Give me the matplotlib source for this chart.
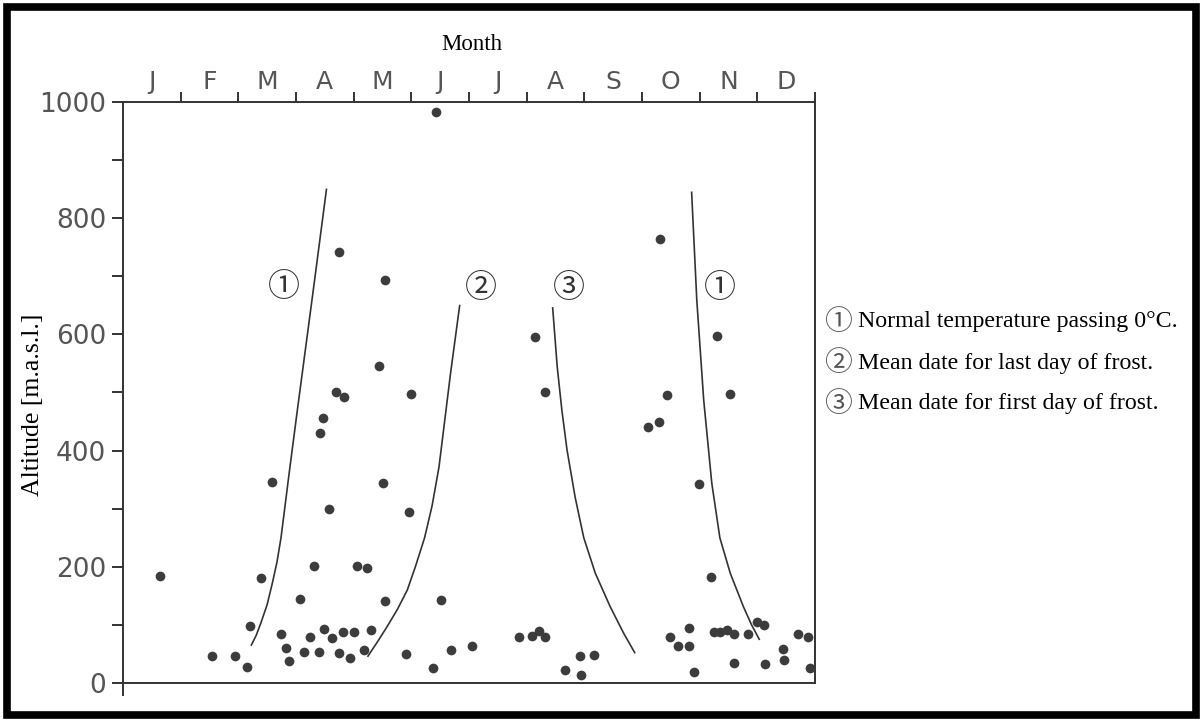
import matplotlib
matplotlib.use('Agg')
import matplotlib.pyplot as plt
from matplotlib.patches import Rectangle

# ---------------- data ----------------
months = ['J', 'F', 'M', 'A', 'M', 'J', 'J', 'A', 'S', 'O', 'N', 'D']

point_month = [0.64, 1.55, 1.94, 2.15, 2.20, 2.39, 2.58, 2.74, 2.83, 2.88,
               3.07, 3.14, 3.24, 3.32, 3.40, 3.41, 3.47, 3.48, 3.57, 3.62,
               3.69, 3.74, 3.75, 3.82, 3.84, 3.94, 4.00, 4.05, 4.18, 4.23,
               4.30, 4.44, 4.51, 4.54, 4.55, 4.90, 4.96, 4.99, 5.38, 5.42,
               5.51, 5.69, 6.05, 6.87, 7.10, 7.14, 7.22, 7.31, 7.32, 7.67,
               7.93, 7.94, 8.16, 9.10, 9.30, 9.32, 9.43, 9.48, 9.63, 9.81,
               9.81, 9.91, 9.98, 10.19, 10.24, 10.30, 10.35, 10.47, 10.52, 10.60,
               10.60, 10.83, 10.99, 11.12, 11.13, 11.44, 11.47, 11.71, 11.88, 11.91]
point_alt = [184, 46, 47, 27, 98, 181, 346, 84, 61, 38,
             144, 53, 79, 202, 53, 430, 456, 93, 299, 77,
             500, 52, 741, 87, 493, 43, 87, 201, 57, 198,
             91, 546, 344, 141, 694, 50, 294, 498, 25, 983,
             142, 57, 63, 79, 81, 595, 89, 500, 79, 23,
             47, 13, 49, 440, 449, 765, 495, 79, 64, 95,
             63, 19, 342, 182, 87, 598, 87, 91, 497, 84,
             34, 84, 105, 99, 33, 58, 39, 85, 79, 26]

# (1) normal temperature passing 0 degC - spring
curve1_month = [2.22, 2.31, 2.39, 2.50, 2.59, 2.67, 2.74, 2.88, 3.02, 3.31, 3.53]
curve1_alt = [64, 82, 103, 135, 172, 208, 250, 360, 467, 684, 851]
# (2) mean date for last day of frost
curve2_month = [4.24, 4.42, 4.58, 4.76, 4.93, 5.07, 5.23, 5.36, 5.48, 5.68, 5.84]
curve2_alt = [45, 72, 97, 127, 160, 200, 250, 305, 372, 533, 651]
# (3) mean date for first day of frost
curve3_month = [7.45, 7.53, 7.61, 7.70, 7.84, 7.99, 8.19, 8.45, 8.68, 8.88]
curve3_alt = [647, 544, 470, 401, 320, 250, 189, 131, 86, 51]
# (1) normal temperature passing 0 degC - autumn
curve4_month = [9.86, 9.95, 10.07, 10.21, 10.35, 10.53, 10.76, 10.90, 11.04]
curve4_alt = [846, 659, 487, 344, 250, 189, 131, 100, 74]

curve_label_text = ['①', '②', '③', '①']
curve_label_month = [2.79, 6.20, 7.73, 10.35]
curve_label_alt = [682, 679, 679, 679]

legend_symbols = ['①', '②', '③']
legend_texts = ['Normal temperature passing 0°C.',
                'Mean date for last day of frost.',
                'Mean date for first day of frost.']

yticks_major = [0, 200, 400, 600, 800, 1000]
yticks_minor = [100, 300, 500, 700, 900]

# ---------------- figure ----------------
W, H = 1203, 722
INK = '#333333'
GREY = '#555555'
fig = plt.figure(figsize=(W / 100, H / 100), dpi=100)
fig.patch.set_facecolor('white')

# black frame around the whole picture
fig.add_artist(Rectangle((7 / W, 7 / H), 1 - 14 / W, 1 - 14 / H,
                         transform=fig.transFigure, fill=False,
                         edgecolor='black', linewidth=5.5))

ax_bottom_px = 694.6
ax_top_px = 102
ax = fig.add_axes([123 / W, (H - ax_bottom_px) / H, (815 - 123) / W,
                   (ax_bottom_px - ax_top_px) / H])
ax.set_xlim(0, 12)
ax.set_ylim(-20, 1000)
ax.set_facecolor('white')

for s in ax.spines.values():
    s.set_color(INK)
    s.set_linewidth(1.4)
ax.spines['bottom'].set_position(('data', 0))
ax.spines['right'].set_bounds(0, 1000)

# x axis on top: boundary ticks and month letters
ax.xaxis.set_ticks_position('top')
ax.set_xticks(list(range(1, 13)))
ax.set_xticklabels([])
ax.set_xticks([i + 0.5 for i in range(12)], minor=True)
ax.set_xticklabels(months, minor=True)
ax.tick_params(axis='x', which='major', direction='out', length=7, width=1.4,
               color=INK, top=True, bottom=False, labeltop=False, labelbottom=False)
ax.tick_params(axis='x', which='minor', length=0, top=True, bottom=False,
               labeltop=True, labelbottom=False, pad=6, labelsize=18,
               labelcolor=GREY)

# y axis
ax.set_yticks(yticks_major)
ax.set_yticks(yticks_minor, minor=True)
ax.tick_params(axis='y', which='both', direction='out', length=8, width=1.4,
               color=INK, left=True, right=False)
ax.tick_params(axis='y', which='major', labelsize=19, labelcolor=GREY, pad=4)
for lab in ax.get_yticklabels() + ax.get_xticklabels(minor=True):
    lab.set_fontfamily('DejaVu Sans')

# curves
for cm, ca in [(curve1_month, curve1_alt), (curve2_month, curve2_alt),
               (curve3_month, curve3_alt), (curve4_month, curve4_alt)]:
    ax.plot(cm, ca, color=INK, linewidth=1.2, solid_capstyle='butt')

# points
ax.plot(point_month, point_alt, 'o', markersize=7, color='#3c3c3c',
        markeredgewidth=0, clip_on=False, zorder=3)

# circled labels on curves
for t, m, a in zip(curve_label_text, curve_label_month, curve_label_alt):
    ax.text(m, a, t, fontsize=23, ha='center', va='center', color=INK,
            family=['Noto Sans CJK JP', 'DejaVu Sans'])

# axis titles
fig.text(472 / W, 1 - 45 / H, 'Month', family='Liberation Serif',
         fontsize=16.5, ha='center', va='center', color='black')
fig.text(33 / W, 1 - 405 / H, 'Altitude [m.a.s.l.]', family='Liberation Serif',
         fontsize=18.5, ha='center', va='center', rotation=90, color='black')

# legend on the right
for i, (sym, txt) in enumerate(zip(legend_symbols, legend_texts)):
    y = 1 - (322 + 41 * i) / H
    fig.text(838 / W, y, sym, fontsize=20, ha='center', va='center',
             color=GREY, family=['Noto Sans CJK JP', 'DejaVu Sans'])
    fig.text(858 / W, y, txt, fontsize=17.2, ha='left', va='center',
             color='black', family='Liberation Serif')

fig.savefig('out.png', dpi=100)
